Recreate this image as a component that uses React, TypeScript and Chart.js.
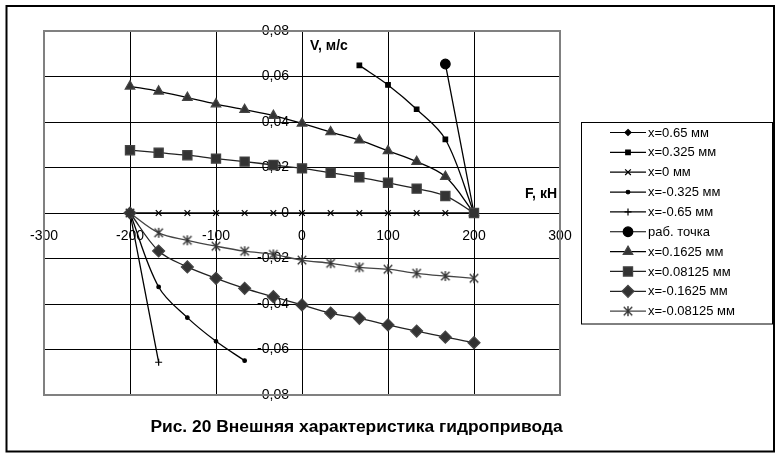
import React, { useEffect, useRef } from 'react';
import { Chart, registerables } from 'chart.js';

Chart.register(...registerables);

// ---------- data ----------
const F_FULL = [-200, -166.7, -133.3, -100, -66.7, -33.3, 0, 33.3, 66.7, 100, 133.3, 166.7, 200];

const F_P065 = [166.7, 200];
const V_P065 = [0.0655, 0];

const F_P0325 = [66.7, 100, 133.3, 166.7, 200];
const V_P0325 = [0.0649, 0.0563, 0.0456, 0.0324, 0];

const V_0 = [0, 0, 0, 0, 0, 0, 0, 0, 0, 0, 0, 0, 0];

const F_M0325 = [-200, -166.7, -133.3, -100, -66.7];
const V_M0325 = [0, -0.0325, -0.046, -0.0564, -0.0649];

const F_M065 = [-200, -166.7];
const V_M065 = [0, -0.0656];

const F_WORK = [166.7];
const V_WORK = [0.0655];

const V_P01625 = [0.0557, 0.0535, 0.0507, 0.0479, 0.0454, 0.0428, 0.0394, 0.0356, 0.032, 0.0273, 0.0226, 0.016, 0];
const V_P008125 = [0.0276, 0.0265, 0.0254, 0.0239, 0.0226, 0.0211, 0.0196, 0.0177, 0.0157, 0.0133, 0.0107, 0.0075, 0];
const V_M01625 = [0, -0.0167, -0.0237, -0.0287, -0.0331, -0.0368, -0.0404, -0.044, -0.0463, -0.0492, -0.0519, -0.0546, -0.057];
const V_M008125 = [0, -0.0087, -0.012, -0.0146, -0.0168, -0.0182, -0.0207, -0.0221, -0.0239, -0.0247, -0.0265, -0.0277, -0.0287];

const SERIES_LABELS = [
  'x=0.65 мм',
  'x=0.325 мм',
  'x=0 мм',
  'x=-0.325 мм',
  'x=-0.65 мм',
  'раб. точка',
  'x=0.1625 мм',
  'x=0.08125 мм',
  'x=-0.1625 мм',
  'x=-0.08125 мм',
];

const X_MIN = -300;
const X_MAX = 300;
const X_STEP = 100;
const Y_MIN = -0.08;
const Y_MAX = 0.08;
const Y_STEP = 0.02;

const X_TITLE = 'F, кН';
const Y_TITLE = 'V, м/с';
const CAPTION = 'Рис. 20 Внешняя характеристика гидропривода';

const FONT = '"Liberation Sans", Arial, sans-serif';

// ---------- helpers ----------
function pts(xs: number[], ys: number[]) {
  return xs.map((x, i) => ({ x, y: ys[i] }));
}

function makeAsterisk(size: number, color: string): HTMLCanvasElement {
  const c = document.createElement('canvas');
  c.width = size;
  c.height = size;
  const g = c.getContext('2d')!;
  g.strokeStyle = color;
  g.lineWidth = 1.4;
  const m = size / 2;
  const r = size / 2 - 1;
  g.beginPath();
  g.moveTo(m, m - r);
  g.lineTo(m, m + r);
  g.moveTo(m - r * 0.85, m - r * 0.85);
  g.lineTo(m + r * 0.85, m + r * 0.85);
  g.moveTo(m + r * 0.85, m - r * 0.85);
  g.lineTo(m - r * 0.85, m + r * 0.85);
  g.stroke();
  return c;
}

type MarkerStyle = {
  style: any;
  radius: number;
  fill: string;
  stroke: string;
  line: string;
  showLine: boolean;
};

function drawMarker(ctx: CanvasRenderingContext2D, m: MarkerStyle, x: number, y: number) {
  const r = m.radius;
  ctx.save();
  ctx.fillStyle = m.fill;
  ctx.strokeStyle = m.stroke;
  ctx.lineWidth = 1.2;
  ctx.beginPath();
  if (typeof m.style !== 'string') {
    const img = m.style as HTMLCanvasElement;
    ctx.drawImage(img, x - img.width / 2, y - img.height / 2);
    ctx.restore();
    return;
  }
  switch (m.style) {
    case 'circle':
      ctx.arc(x, y, r, 0, Math.PI * 2);
      ctx.fill();
      ctx.stroke();
      break;
    case 'rect': {
      const s = r * Math.SQRT1_2;
      ctx.rect(x - s, y - s, 2 * s, 2 * s);
      ctx.fill();
      ctx.stroke();
      break;
    }
    case 'rectRot':
      ctx.moveTo(x, y - r);
      ctx.lineTo(x + r, y);
      ctx.lineTo(x, y + r);
      ctx.lineTo(x - r, y);
      ctx.closePath();
      ctx.fill();
      ctx.stroke();
      break;
    case 'triangle': {
      const a = (2 * Math.PI) / 3;
      ctx.moveTo(x, y - r);
      ctx.lineTo(x + Math.sin(a) * r, y - Math.cos(a) * r);
      ctx.lineTo(x + Math.sin(2 * a) * r, y - Math.cos(2 * a) * r);
      ctx.closePath();
      ctx.fill();
      ctx.stroke();
      break;
    }
    case 'cross':
      ctx.moveTo(x, y - r);
      ctx.lineTo(x, y + r);
      ctx.moveTo(x - r, y);
      ctx.lineTo(x + r, y);
      ctx.stroke();
      break;
    case 'crossRot': {
      const s = r * Math.SQRT1_2;
      ctx.moveTo(x - s, y - s);
      ctx.lineTo(x + s, y + s);
      ctx.moveTo(x + s, y - s);
      ctx.lineTo(x - s, y + s);
      ctx.stroke();
      break;
    }
  }
  ctx.restore();
}

export default function App() {
  const ref = useRef<HTMLCanvasElement>(null);

  useEffect(() => {
    const canvas = ref.current!;
    const asterisk = makeAsterisk(12, '#333333');

    const MARKERS: MarkerStyle[] = [
      { style: 'rectRot', radius: 3, fill: '#000', stroke: '#000', line: '#000', showLine: true },
      { style: 'rect', radius: 3.2, fill: '#000', stroke: '#000', line: '#000', showLine: true },
      { style: 'crossRot', radius: 4, fill: '#000', stroke: '#000', line: '#000', showLine: true },
      { style: 'circle', radius: 1.8, fill: '#000', stroke: '#000', line: '#000', showLine: true },
      { style: 'cross', radius: 3.5, fill: '#000', stroke: '#000', line: '#000', showLine: true },
      { style: 'circle', radius: 4.8, fill: '#000', stroke: '#000', line: '#000', showLine: false },
      { style: 'triangle', radius: 5.5, fill: '#333', stroke: '#444', line: '#000', showLine: true },
      { style: 'rect', radius: 6.5, fill: '#333', stroke: '#444', line: '#222', showLine: true },
      { style: 'rectRot', radius: 6, fill: '#333', stroke: '#444', line: '#222', showLine: true },
      { style: asterisk, radius: 6, fill: '#333', stroke: '#333', line: '#444', showLine: true },
    ];

    const seriesData = [
      pts(F_P065, V_P065),
      pts(F_P0325, V_P0325),
      pts(F_FULL, V_0),
      pts(F_M0325, V_M0325),
      pts(F_M065, V_M065),
      pts(F_WORK, V_WORK),
      pts(F_FULL, V_P01625),
      pts(F_FULL, V_P008125),
      pts(F_FULL, V_M01625),
      pts(F_FULL, V_M008125),
    ];

    const datasets = seriesData.map((data, i) => {
      const m = MARKERS[i];
      return {
        label: SERIES_LABELS[i],
        data,
        showLine: m.showLine,
        borderColor: m.line,
        borderWidth: 1.3,
        tension: 0.35,
        fill: false,
        pointStyle: m.style,
        pointRadius: m.radius,
        pointBackgroundColor: m.fill,
        pointBorderColor: m.stroke,
        pointBorderWidth: 1.2,
        order: 10 - i,
        clip: false as any,
      };
    });

    const deco = {
      id: 'deco',
      beforeDraw(chart: any) {
        const ctx = chart.ctx as CanvasRenderingContext2D;
        ctx.save();
        ctx.fillStyle = '#ffffff';
        ctx.fillRect(0, 0, chart.width, chart.height);
        ctx.restore();
      },
      afterDraw(chart: any) {
        const ctx = chart.ctx as CanvasRenderingContext2D;
        const a = chart.chartArea;
        const xs = chart.scales.x;
        const ys = chart.scales.y;
        ctx.save();
        // plot area border
        ctx.strokeStyle = '#808080';
        ctx.lineWidth = 2;
        ctx.strokeRect(a.left, a.top, a.right - a.left, a.bottom - a.top);
        // outer frame
        ctx.strokeStyle = '#000';
        ctx.lineWidth = 2;
        ctx.strokeRect(6.5, 6, 767.5, 445.5);

        // axis titles
        ctx.fillStyle = '#000';
        ctx.font = 'bold 14px ' + FONT;
        ctx.textBaseline = 'middle';
        ctx.textAlign = 'left';
        ctx.fillText(Y_TITLE, xs.getPixelForValue(0) + 8, ys.getPixelForValue(0.0733));
        ctx.textAlign = 'right';
        ctx.fillText(X_TITLE, a.right - 3, ys.getPixelForValue(0.0083));

        // caption
        ctx.font = 'bold 17.4px ' + FONT;
        ctx.textAlign = 'center';
        ctx.fillText(CAPTION, 356.5, 427);

        // legend
        ctx.strokeStyle = '#000';
        ctx.lineWidth = 1;
        ctx.strokeRect(581.5, 122.5, 191, 201.5);
        ctx.font = '13px ' + FONT;
        ctx.textAlign = 'left';
        ctx.textBaseline = 'middle';
        for (let i = 0; i < SERIES_LABELS.length; i++) {
          const y = 132.5 + i * 19.85;
          const m = MARKERS[i];
          ctx.strokeStyle = m.line;
          ctx.lineWidth = 1.2;
          ctx.beginPath();
          ctx.moveTo(610, y);
          ctx.lineTo(646, y);
          ctx.stroke();
          drawMarker(ctx, m, 628, y);
          ctx.fillStyle = '#000';
          ctx.fillText(SERIES_LABELS[i], 648, y + 0.5);
        }
        ctx.restore();
      },
    };

    const chart = new Chart(canvas, {
      type: 'line',
      data: { datasets: datasets as any },
      options: {
        animation: false,
        responsive: false,
        devicePixelRatio: 1,
        layout: { padding: { left: 44, top: 31, right: 221, bottom: 63 } },
        plugins: {
          legend: { display: false },
          tooltip: { enabled: false },
          title: { display: false },
        },
        scales: {
          x: {
            type: 'linear',
            min: X_MIN,
            max: X_MAX,
            position: 'center',
            afterFit: (s: any) => {
              s.height = 0;
            },
            border: { display: false },
            grid: {
              color: (c: any) =>
                c.tick && (c.tick.value === X_MIN || c.tick.value === X_MAX) ? 'rgba(0,0,0,0)' : '#000',
              lineWidth: 1,
              drawTicks: false,
            },
            ticks: {
              stepSize: X_STEP,
              autoSkip: false,
              maxRotation: 0,
              color: '#000',
              padding: 15,
              font: { family: FONT, size: 14 },
              callback: (v: any) => String(Math.round(Number(v))),
            },
          },
          y: {
            type: 'linear',
            min: Y_MIN,
            max: Y_MAX,
            position: 'center',
            afterFit: (s: any) => {
              s.width = 0;
            },
            border: { display: false },
            grid: {
              color: (c: any) =>
                c.tick && (Math.abs(c.tick.value - Y_MIN) < 1e-9 || Math.abs(c.tick.value - Y_MAX) < 1e-9)
                  ? 'rgba(0,0,0,0)'
                  : '#000',
              lineWidth: 1,
              drawTicks: false,
            },
            ticks: {
              stepSize: Y_STEP,
              autoSkip: false,
              color: '#000',
              padding: 13,
              font: { family: FONT, size: 14 },
              callback: (v: any) => {
                const n = Math.round(Number(v) * 100) / 100;
                if (n === 0) return '0';
                return n.toFixed(2).replace('.', ',');
              },
            },
          },
        },
      },
      plugins: [deco],
    });

    return () => chart.destroy();
  }, []);

  return (
    <div style={{ position: 'fixed', left: 0, top: 0, width: 781, height: 458, background: '#fff' }}>
      <canvas ref={ref} width={781} height={458} style={{ display: 'block', width: 781, height: 458 }} />
    </div>
  );
}
